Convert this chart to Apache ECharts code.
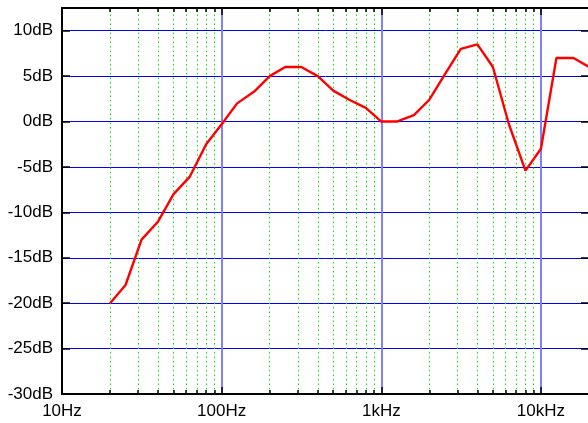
<!DOCTYPE html>
<html><head><meta charset="utf-8">
<script src="https://cdn.jsdelivr.net/npm/echarts@6/dist/echarts.min.js"></script>
<style>html,body{margin:0;padding:0;background:#fff}#c{width:588px;height:423px}</style>
</head><body><div id="c"></div>
<script>
const freqs = [20,25,31.5,40,50,63,80,100,125,160,200,250,315,400,500,630,800,1000,1250,1600,2000,2500,3150,4000,5000,6300,8000,10000,12500,16000,20000];
const gainDb = [-20,-18,-13,-11,-8,-6.1,-2.5,-0.3,2,3.3,5,6,6,5,3.4,2.4,1.5,0,0,0.7,2.4,5.2,8,8.5,6,-0.3,-5.4,-3,7,7,6];
const minorFreqs = [20,30,40,50,60,70,80,90,200,300,400,500,600,700,800,900,2000,3000,4000,5000,6000,7000,8000,9000];
const xMin = 10, xMax = 20000, yMin = -30, yMax = 12.5, yStep = 5;

const font = "'Liberation Sans', Arial, sans-serif";
function fmtHz(v){
  const l = Math.log10(v);
  if (Math.abs(l - Math.round(l)) > 1e-6) return '';
  if (v >= 1000) return (v/1000) + 'kHz';
  return v + 'Hz';
}
const minorTickLen = 0.44; // in dB units (~4px)
const gridLines = minorFreqs.map(f => [{coord:[f, yMin]}, {coord:[f, yMax]}]);
const tickLines = [];
minorFreqs.forEach(f => {
  tickLines.push([{coord:[f, yMin]}, {coord:[f, yMin + minorTickLen]}]);
  tickLines.push([{coord:[f, yMax]}, {coord:[f, yMax - minorTickLen]}]);
});

const chart = echarts.init(document.getElementById('c'), null, {renderer:'canvas'});
chart.setOption({
  animation:false,
  backgroundColor:'#fff',
  textStyle:{fontFamily:font},
  grid:{left:62, top:8, width:527, height:386, containLabel:false, outerBoundsMode:'none'},
  xAxis:[
    {type:'log', logBase:10, min:xMin, max:xMax, position:'bottom',
     axisLine:{show:true, onZero:false, lineStyle:{color:'#000', width:2}},
     axisTick:{show:true, inside:true, length:7, lineStyle:{color:'#000', width:1.5}},
     axisLabel:{show:true, formatter:fmtHz, color:'#000', fontSize:17, fontFamily:font, margin:9},
     splitLine:{show:true, lineStyle:{color:'#8080ff', width:2}},
     minorTick:{show:false}, minorSplitLine:{show:false}},
    {type:'log', logBase:10, min:xMin, max:xMax, position:'top',
     axisLine:{show:true, onZero:false, lineStyle:{color:'#000', width:2}},
     axisTick:{show:true, inside:true, length:7, lineStyle:{color:'#000', width:1.5}},
     axisLabel:{show:false}, splitLine:{show:false}}
  ],
  yAxis:[
    {type:'value', min:yMin, max:yMax, interval:yStep, position:'left',
     axisLine:{show:true, onZero:false, lineStyle:{color:'#000', width:2}},
     axisTick:{show:true, inside:true, length:8, lineStyle:{color:'#000', width:1.5}},
     axisLabel:{show:true, color:'#000', fontSize:17, fontFamily:font, margin:9,
       formatter:v => (Math.abs(v % yStep) < 1e-6 ? v + 'dB' : '')},
     splitLine:{show:true, lineStyle:{color:'#0000ff', width:1}}},
    {type:'value', min:yMin, max:yMax, interval:yStep, position:'right',
     axisLine:{show:true, onZero:false, lineStyle:{color:'#000', width:2}},
     axisTick:{show:true, inside:true, length:8, lineStyle:{color:'#000', width:1.5}},
     axisLabel:{show:false}, splitLine:{show:false}}
  ],
  series:[
    {type:'line', data:[], xAxisIndex:0, yAxisIndex:0, z:1, silent:true,
     markLine:{silent:true, symbol:['none','none'], label:{show:false}, animation:false,
       lineStyle:{color:'#00ee00', width:1, type:[1.5,3]}, data:gridLines}},
    {type:'line', data:[], xAxisIndex:0, yAxisIndex:0, z:3, silent:true,
     markLine:{silent:true, symbol:['none','none'], label:{show:false}, animation:false,
       lineStyle:{color:'#000', width:1.5, type:'solid'}, data:tickLines}},
    {type:'line', xAxisIndex:0, yAxisIndex:0, z:5, showSymbol:false, symbol:'none',
     lineStyle:{color:'#ff0000', width:2.4},
     data:freqs.map((f,i)=>[f, gainDb[i]])}
  ]
});
</script></body></html>
